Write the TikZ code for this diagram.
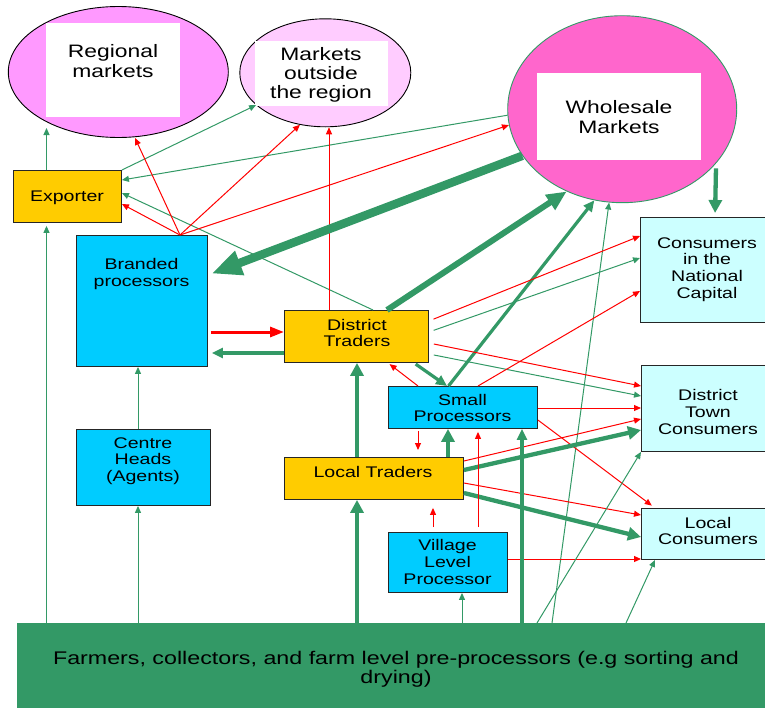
\documentclass[tikz,border=0pt]{standalone}
\usepackage{fontspec}
\setmainfont{Liberation Sans}[FakeStretch=1.27]
\usetikzlibrary{arrows.meta,shapes.geometric}
\definecolor{gr}{HTML}{339966}
\definecolor{yel}{HTML}{FFCC00}
\definecolor{blu}{HTML}{00CCFF}
\definecolor{cya}{HTML}{CCFFFF}
\definecolor{pkA}{HTML}{FF99FF}
\definecolor{pkB}{HTML}{FFCCFF}
\definecolor{pkC}{HTML}{FF66CC}
\begin{document}
\begin{tikzpicture}[x=1pt,y=-1pt,
  bx/.style={draw=black!85, line width=0.9pt, anchor=north west, inner sep=0pt},
  ell/.style={ellipse, inner sep=0pt, line width=0.9pt},
  wbox/.style={fill=white, draw=none, inner sep=0pt},
  btxt/.style={font=\fontsize{15.4}{16.7}\selectfont, align=center, inner sep=0pt},
  etxt/.style={font=\fontsize{18}{19.3}\selectfont, align=center, inner sep=0pt},
  ftxt/.style={font=\fontsize{18.3}{19.5}\selectfont, align=center, inner sep=0pt},
  gA/.style={draw=gr, line width=1pt, -{Triangle[length=7pt,width=6pt]}},
  rA/.style={draw=red, line width=1pt, -{Triangle[length=7pt,width=6pt]}},
  gM/.style={draw=gr, line width=3.2pt, -{Triangle[length=11pt,width=10pt]}},
  rM/.style={draw=red, line width=3pt, -{Triangle[length=14pt,width=10pt]}},
  gT/.style={draw=gr, line width=4.3pt, -{Triangle[length=13pt,width=13pt]}},
  gV/.style={draw=gr, line width=6pt, -{Triangle[length=20pt,width=17pt]}},
  gX/.style={draw=gr, line width=8.5pt, -{Triangle[length=30pt,width=24pt]}}]
\useasboundingbox (0,0) rectangle (765,707);
\clip (0,0) rectangle (765,707);

% ellipses
\node[ell, fill=pkA, draw=black, minimum width=220pt, minimum height=131pt] (rm) at (118.3,72) {};
\node[wbox, minimum width=134pt, minimum height=94pt] (rmw) at (113,70) {};
\node[etxt] (rmt) at (113,61) {Regional\\markets};

\node[ell, fill=pkB, draw=black, minimum width=171pt, minimum height=108pt] (mo) at (325.3,72.8) {};
\node[wbox, minimum width=133pt, minimum height=65pt] (mow) at (321.5,73.5) {};
\node[etxt] (mot) at (321,75) {Markets\\outside\\the region};

\node[ell, fill=pkC, draw=gr, minimum width=229pt, minimum height=187pt] (wm) at (622.2,109.2) {};
\node[wbox, minimum width=164pt, minimum height=87pt] (wmw) at (619,116.5) {};
\node[etxt] (wmt) at (619,117) {Wholesale\\Markets};

% boxes
\node[bx, fill=yel, minimum width=108pt, minimum height=52pt] (ex) at (13,170) {};
\node[btxt] (ext) at (67,198) {Exporter};
\node[bx, fill=blu, minimum width=131pt, minimum height=131pt] (bp) at (76,235) {};
\node[btxt] (bpt) at (141.5,274) {Branded\\processors};
\node[bx, fill=blu, minimum width=134pt, minimum height=76pt] (ch) at (76,429) {};
\node[btxt] (cht) at (143,461) {Centre\\Heads\\(Agents)};
\node[bx, fill=yel, minimum width=144pt, minimum height=52pt] (dt) at (284,310) {};
\node[btxt] (dtt) at (357,333) {District\\Traders};
\node[bx, fill=blu, minimum width=149pt, minimum height=42pt] (sp) at (388,386) {};
\node[btxt] (spt) at (462.5,408) {Small\\Processors};
\node[bx, fill=yel, minimum width=179pt, minimum height=42pt] (lt) at (284,457) {};
\node[btxt] (ltt) at (373,472) {Local Traders};
\node[bx, fill=blu, minimum width=119pt, minimum height=60pt] (vp) at (388,532) {};
\node[btxt] (vpt) at (447.5,562) {Village\\Level\\Processor};
\node[bx, fill=cya, minimum width=135pt, minimum height=105pt] (cn) at (640,217) {};
\node[btxt] (cnt) at (707,269.5) {Consumers\\in the\\National\\Capital};
\node[bx, fill=cya, minimum width=134pt, minimum height=86pt] (dtc) at (641,365) {};
\node[btxt] (dtct) at (708,412) {District\\Town\\Consumers};
\node[bx, fill=cya, minimum width=134pt, minimum height=51pt] (lc) at (641,508) {};
\node[btxt] (lct) at (708,531) {Local\\Consumers};
\node[anchor=north west, inner sep=0pt, fill=gr, minimum width=760pt, minimum height=100pt] (fm) at (17,623) {};
\node[ftxt] (fmt) at (396,669.5) {Farmers, collectors, and farm level pre-processors (e.g sorting and\\drying)};

\coordinate (rmtip) at (46.5,128);
\coordinate (bpo) at (180,235);

% left column
\draw[gA] (46.5,0 |- ex.north) -- (rmtip);
\draw[gA, shorten >=3pt] (46.5,0 |- fm.north) -- (46.5,0 |- ex.south);
\draw[gA] (138,0 |- fm.north) -- (138,0 |- ch.south);
\draw[gA] (138,0 |- ch.north) -- (138,0 |- bp.south);

% to exporter and markets
\draw[gA] (ex.north east) -- (mo.205);
\draw[gA] (wm.183.5) -- (ex.east |- 0,180);
\draw[gA] (373,0 |- dt.north) -- (ex.east |- 0,193);
\draw[rA] (bpo) -- (135,0 |- rm.south);
\draw[rA] (bpo) -- (mo.244);
\draw[rA] (bpo) -- (ex.east |- 0,204);
\draw[rA] (bpo) -- (wm.188.5);
\draw[rA] (329,0 |- dt.north) -- (329,0 |- mo.south);

% wholesale
\draw[gX, shorten >=4pt] (wm.205.6) -- (bp.east |- 0,275);
\draw[gV] (387,0 |- dt.north) -- (wm.236.8);
\draw[gM] (448.5,0 |- sp.north) -- (wm.253.8);
\draw[gA] (552,0 |- fm.north) -- (wm.262.7);
\draw[gT, shorten <=5pt, shorten >=4pt] (wm.-30.6) -- (715,0 |- cn.north);

% branded <-> district
\draw[rM, shorten <=3pt] (bp.east |- 0,332) -- (dt.west |- 0,332);
\draw[gM, shorten >=4pt] (dt.west |- 0,353) -- (bp.east |- 0,353);

% district traders out
\draw[rA, shorten <=5pt] (dt.east |- 0,321) -- (cn.west |- 0,236);
\draw[gA, shorten <=5pt] (dt.east |- 0,332) -- (cn.west |- 0,258);
\draw[rA, shorten <=5pt] (dt.east |- 0,343) -- (dtc.west |- 0,386);
\draw[gA, shorten <=5pt] (dt.east |- 0,354) -- (dtc.west |- 0,396);
\draw[gM, shorten <=2pt] (414,0 |- dt.south) -- (447,0 |- sp.north);

% small processors out
\draw[rA, shorten >=2pt] (418,0 |- sp.north) -- (388,0 |- dt.south);
\draw[rA] (478,0 |- sp.north) -- (cn.west |- 0,291);
\draw[rA] (sp.east |- 0,408) -- (dtc.west |- 0,408);
\draw[rA, shorten >=4pt] (sp.east |- 0,420) -- (655,0 |- lc.north);
\draw[rA, shorten <=2pt, shorten >=7pt] (418,0 |- sp.south) -- (418,0 |- lt.north);

% local traders
\draw[gT] (357,0 |- fm.north) -- (357,0 |- lt.south);
\draw[gT] (357,0 |- lt.north) -- (357,0 |- dt.south);
\draw[gT] (448,0 |- lt.north) -- (448,0 |- sp.south);
\draw[rA] (lt.east |- 0,461) -- (dtc.west |- 0,419);
\draw[gT] (lt.east |- 0,470) -- (dtc.west |- 0,430);
\draw[rA] (lt.east |- 0,483) -- (lc.west |- 0,515);
\draw[gT] (lt.east |- 0,493) -- (lc.west |- 0,537);

% village
\draw[rA, shorten <=5pt, shorten >=3pt] (478,0 |- vp.north) -- (478,0 |- sp.south);
\draw[rA, shorten <=5pt, shorten >=8pt] (433,0 |- vp.north) -- (433,0 |- lt.south);
\draw[rA] (vp.east |- 0,559) -- (lc.west |- 0,559);

% farmers
\draw[gM] (522,0 |- fm.north) -- (522,0 |- sp.south);
\draw[gA] (462,0 |- fm.north) -- (462,0 |- vp.south);
\draw[gA] (537,0 |- fm.north) -- (dtc.south west);
\draw[gA] (626,0 |- fm.north) -- (655,0 |- lc.south);
\end{tikzpicture}
\end{document}
